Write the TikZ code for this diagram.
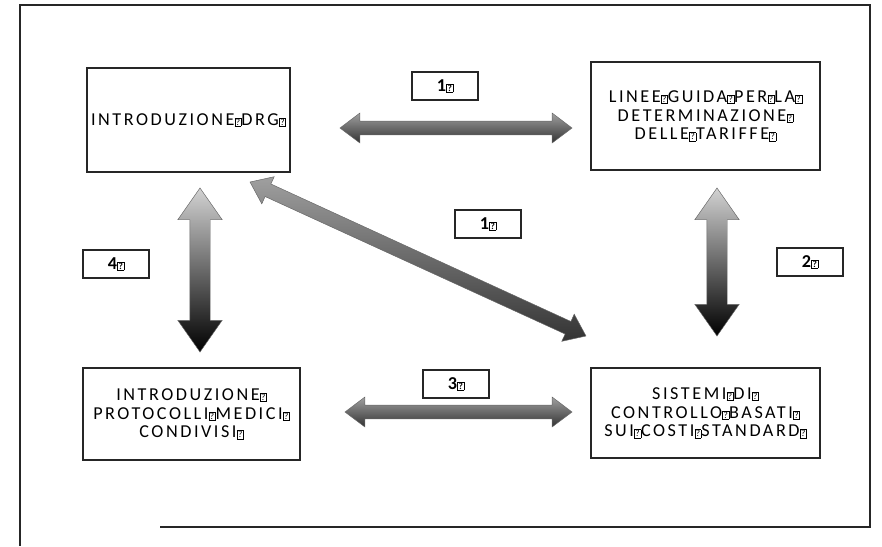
\documentclass[tikz,border=0pt]{standalone}
\usepackage{fontspec}
\setmainfont{Carlito}[LetterSpace=14]
\usetikzlibrary{shapes.arrows,positioning,calc}

% box drawn where the source font had no glyph
\newcommand{\nog}{\kern0.2pt{\fboxsep=0.6pt\fboxrule=0.45pt\fbox{\addfontfeature{LetterSpace=0}\fontsize{8}{8}\selectfont ?}}}
% fat shaded double arrow between two named points
\newcommand{\fatlink}[3][]{%
  \path let \p1=(#2), \p2=(#3), \n1={atan2(\y2-\y1,\x2-\x1)}, \n2={veclen(\x2-\x1,\y2-\y1)} in
    node[fatarrow,#1,minimum height=\n2,rotate=\n1] at ($(#2)!0.5!(#3)$) {};}

\begin{document}
\begin{tikzpicture}[
    x=0.03cm, y=-0.03cm,
    topic/.style={draw=black!85, line width=1pt, align=center, inner sep=0pt,
                  font=\fontsize{15.5}{16}\selectfont},
    tag/.style={draw=black!85, line width=1pt, minimum width=1.98cm, minimum height=0.84cm,
                inner sep=0pt, font=\bfseries\fontsize{15.5}{14}\selectfont},
    fatarrow/.style={double arrow, inner xsep=0pt, draw=black!60, line width=0.4pt},
    thin arrow/.style={inner ysep=0.2cm, double arrow head extend=0.24cm,
                       double arrow tip angle=74,
                       top color=gray!75, bottom color=black!80},
    tall arrow/.style={inner ysep=0.3cm, double arrow head extend=0.36cm,
                       double arrow tip angle=70,
                       top color=gray!35, bottom color=black}
]
\useasboundingbox (0,0) rectangle (882,546);
\draw[line width=1pt, black!85] (160,527) -- (870,527) -- (870,5) -- (20,5) -- (20,546);

% topics
\node[topic, minimum width=6.09cm, minimum height=3.12cm] (drg) at (188.5,120) {INTRODUZIONE\nog DRG\nog};
\node[topic, minimum width=6.87cm, minimum height=3.24cm] (linee) at (705.5,116)
  {LINEE\nog GUIDA\nog PER\nog LA\nog\\ DETERMINAZIONE\nog\\ DELLE\nog TARIFFE\nog};
\node[topic, minimum width=6.51cm, minimum height=2.76cm] (proto) at (191.5,414)
  {INTRODUZIONE\nog\\ PROTOCOLLI\nog MEDICI\nog\\ CONDIVISI\nog};
\node[topic, minimum width=6.87cm, minimum height=2.7cm] (sist) at (705.5,413)
  {SISTEMI\nog DI\nog\\ CONTROLLO\nog BASATI\nog\\ SUI\nog COSTI\nog STANDARD\nog};

% step numbers
\node[tag] (n1a) at (445,86) {1\nog};
\node[tag] (n1b) at (488,224) {1\nog};
\node[tag] (n4) at (116,264) {4\nog};
\node[tag] (n2) at (810,262) {2\nog};
\node[tag] (n3) at (456,384) {3\nog};

% arrow ends
\coordinate (drgR) at (340,128);
\coordinate (lineeL) at (572,128);
\coordinate (drgB) at (200,188);
\coordinate (protoT) at (200,352);
\coordinate (lineeB) at (717,188);
\coordinate (sistT) at (717,336);
\coordinate (drgD) at (250,182);
\coordinate (sistD) at (586,336);
\coordinate (protoR) at (345,412);
\coordinate (sistL) at (572,412);

\fatlink[thin arrow]{drgR}{lineeL}
\fatlink[tall arrow]{drgB}{protoT}
\fatlink[tall arrow]{lineeB}{sistT}
\fatlink[thin arrow]{drgD}{sistD}
\fatlink[thin arrow]{protoR}{sistL}
\end{tikzpicture}
\end{document}
